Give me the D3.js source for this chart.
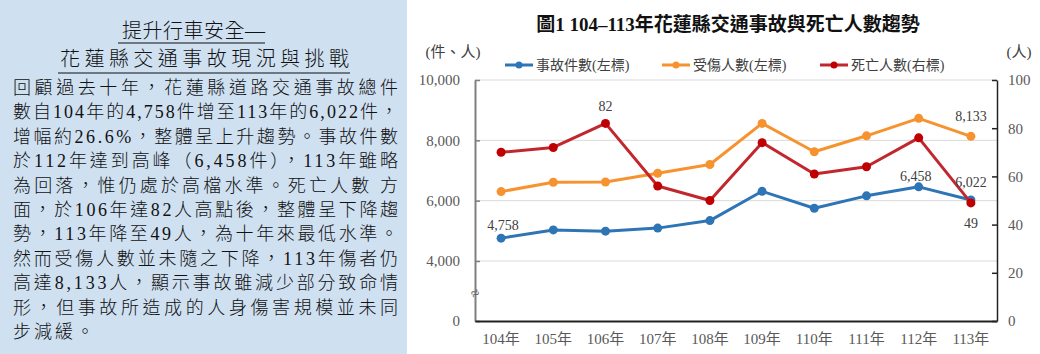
<!DOCTYPE html>
<html>
<head>
<meta charset="utf-8">
<script src="https://cdn.jsdelivr.net/npm/d3@7"></script>
<style>
  body { margin: 0; background: #fff; }
  svg text { font-family: "Liberation Serif", "Noto Sans CJK TC", serif; }
</style>
</head>
<body>
<div id="chart"></div>
<script>
// ---- data ----
const years = ["104年", "105年", "106年", "107年", "108年", "109年", "110年", "111年", "112年", "113年"];
const accidents = [4758, 5030, 4990, 5090, 5340, 6310, 5750, 6160, 6458, 6022];
const injuries = [6300, 6610, 6620, 6910, 7200, 8560, 7620, 8150, 8730, 8133];
const deaths = [70, 72, 82, 56, 50, 74, 61, 64, 76, 49];
const leftTicks = [0, 4000, 6000, 8000, 10000];
const rightTicks = [0, 20, 40, 60, 80, 100];

const titleLines = ["提升行車安全—", "花蓮縣交通事故現況與挑戰"];
const bodyLines = [
  "回顧過去十年，花蓮縣道路交通事故總件",
  "數自104年的4,758件增至113年的6,022件，",
  "增幅約26.6%，整體呈上升趨勢。事故件數",
  "於112年達到高峰（6,458件），113年雖略",
  "為回落，惟仍處於高檔水準。死亡人數 方",
  "面，於106年達82人高點後，整體呈下降趨",
  "勢，113年降至49人，為十年來最低水準。",
  "然而受傷人數並未隨之下降，113年傷者仍",
  "高達8,133人，顯示事故雖減少部分致命情",
  "形，但事故所造成的人身傷害規模並未同",
  "步減緩。"
];

(function() {
  const width = 1040, height = 354;
  const svg = d3.select("#chart").append("svg")
      .attr("width", width)
      .attr("height", height);

  // ---- left text panel ----
  svg.append("rect").attr("x", 0).attr("y", 0).attr("width", 407).attr("height", height)
      .attr("fill", "#cfe0f1");

  const titleSpec = [{x: 122, len: 143, y: 31, ul: [118, 265, 43]},
                     {x: 60, len: 289, y: 59, ul: [58, 350, 73]}];
  titleLines.forEach((t, i) => {
    const s = titleSpec[i];
    svg.append("text").attr("x", s.x).attr("y", s.y)
        .attr("dominant-baseline", "central")
        .attr("textLength", s.len).attr("lengthAdjust", "spacing")
        .attr("font-size", 20).attr("font-weight", 300).attr("fill", "#111").text(t);
    svg.append("line").attr("x1", s.ul[0]).attr("x2", s.ul[1])
        .attr("y1", s.ul[2]).attr("y2", s.ul[2])
        .attr("stroke", "#111").attr("stroke-width", 1.2);
  });

  bodyLines.forEach((t, i) => {
    const el = svg.append("text").attr("x", 13).attr("y", 88 + i * 24.4)
        .attr("dominant-baseline", "central")
        .attr("font-size", 18).attr("font-weight", 300).attr("fill", "#111").text(t);
    if (i < bodyLines.length - 1) {
      el.attr("textLength", 385).attr("lengthAdjust", "spacing");
    } else {
      el.attr("letter-spacing", 3);
    }
  });

  // ---- chart ----
  const x = d3.scaleBand().domain(years).range([475, 997]);
  const cx = d => x(d) + x.bandwidth() / 2;
  const yL = d3.scaleLinear().domain([0, 4000, 10000]).range([321, 261, 80]);
  const yR = d3.scaleLinear().domain([0, 100]).range([321, 80]);

  svg.append("text").attr("x", 728).attr("y", 24)
      .attr("text-anchor", "middle").attr("dominant-baseline", "central")
      .attr("font-size", 19).attr("font-weight", "bold").attr("fill", "#111")
      .text("圖1 104–113年花蓮縣交通事故與死亡人數趨勢");

  // gridlines
  svg.append("g").selectAll("line")
      .data(leftTicks.filter(d => d > 0))
      .join("line")
      .attr("x1", 475).attr("x2", 997)
      .attr("y1", d => yL(d)).attr("y2", d => yL(d))
      .attr("stroke", "#d9d9d9").attr("stroke-width", 1);

  // left axis
  const gl = svg.append("g").attr("transform", "translate(475,0)")
      .call(d3.axisLeft(yL).tickValues(leftTicks).tickFormat(d3.format(","))
            .tickSize(-5).tickSizeOuter(0).tickPadding(15));
  gl.select(".domain").attr("stroke", "#7f7f7f").attr("stroke-width", 2);
  gl.selectAll(".tick line").attr("stroke", "#7f7f7f").attr("stroke-width", 1.5);
  gl.selectAll(".tick text").attr("font-size", 15).attr("fill", "#595959")
      .attr("font-family", "Liberation Serif");

  // right axis
  const gr = svg.append("g").attr("transform", "translate(997,0)")
      .call(d3.axisRight(yR).tickValues(rightTicks)
            .tickSize(-5).tickSizeOuter(0).tickPadding(11));
  gr.select(".domain").attr("stroke", "#222").attr("stroke-width", 1.5);
  gr.selectAll(".tick line").attr("stroke", "#222").attr("stroke-width", 1.5);
  gr.selectAll(".tick text").attr("font-size", 15).attr("fill", "#595959")
      .attr("font-family", "Liberation Serif");

  // bottom axis
  const gb = svg.append("g").attr("transform", "translate(0,321)")
      .call(d3.axisBottom(x).tickSize(0).tickPadding(12));
  gb.select(".domain").attr("stroke", "#222").attr("stroke-width", 2);
  gb.selectAll(".tick text").attr("font-size", 15).attr("fill", "#595959");

  // axis break mark
  svg.append("text").attr("transform", "translate(475,293) rotate(-30)")
      .attr("text-anchor", "middle").attr("dominant-baseline", "central")
      .attr("font-family", "DejaVu Sans")
      .attr("font-size", 15).attr("fill", "#555").text("≈");

  // unit labels
  svg.append("text").attr("x", 453).attr("y", 52).attr("text-anchor", "middle")
      .attr("dominant-baseline", "central").attr("font-size", 15).attr("fill", "#404040")
      .text("(件、人)");
  svg.append("text").attr("x", 1019).attr("y", 52).attr("text-anchor", "middle")
      .attr("dominant-baseline", "central").attr("font-size", 15).attr("fill", "#404040")
      .text("(人)");

  // series
  const series = [
    {name: "事故件數(左標)", values: accidents, y: yL, line: "#2e75b6", dot: "#2e75b6", lx: 505},
    {name: "受傷人數(左標)", values: injuries, y: yL, line: "#f7932f", dot: "#f7932f", lx: 662},
    {name: "死亡人數(右標)", values: deaths, y: yR, line: "#c1272d", dot: "#c00000", lx: 820}
  ];

  series.forEach(s => {
    const line = d3.line().x((d, i) => cx(years[i])).y(d => s.y(d));
    svg.append("path").datum(s.values)
        .attr("d", line).attr("fill", "none")
        .attr("stroke", s.line).attr("stroke-width", 3).attr("stroke-linejoin", "round");
    svg.append("g").selectAll("circle")
        .data(s.values).join("circle")
        .attr("cx", (d, i) => cx(years[i])).attr("cy", d => s.y(d))
        .attr("r", 4.5).attr("fill", s.dot);

    // legend
    svg.append("line").attr("x1", s.lx).attr("x2", s.lx + 28).attr("y1", 65).attr("y2", 65)
        .attr("stroke", s.line).attr("stroke-width", 3);
    svg.append("circle").attr("cx", s.lx + 14).attr("cy", 65).attr("r", 3.5).attr("fill", s.dot);
    svg.append("text").attr("x", s.lx + 31).attr("y", 65).attr("dominant-baseline", "central")
        .attr("font-size", 14).attr("fill", "#404040")
        .text(s.name);
  });

  // data labels
  const annotations = [
    {s: 0, i: 0, dx: 2, dy: -13},
    {s: 2, i: 2, dx: 0, dy: -17},
    {s: 1, i: 9, dx: 0, dy: -20},
    {s: 0, i: 8, dx: -3, dy: -10},
    {s: 0, i: 9, dx: 0, dy: -18},
    {s: 2, i: 9, dx: 0, dy: 21}
  ];
  svg.append("g").selectAll("text")
      .data(annotations).join("text")
      .attr("x", a => cx(years[a.i]) + a.dx)
      .attr("y", a => series[a.s].y(series[a.s].values[a.i]) + a.dy)
      .attr("text-anchor", "middle").attr("dominant-baseline", "central")
      .attr("font-size", 14).attr("fill", "#404040")
      .text(a => d3.format(",")(series[a.s].values[a.i]));
}());
</script>
</body>
</html>
